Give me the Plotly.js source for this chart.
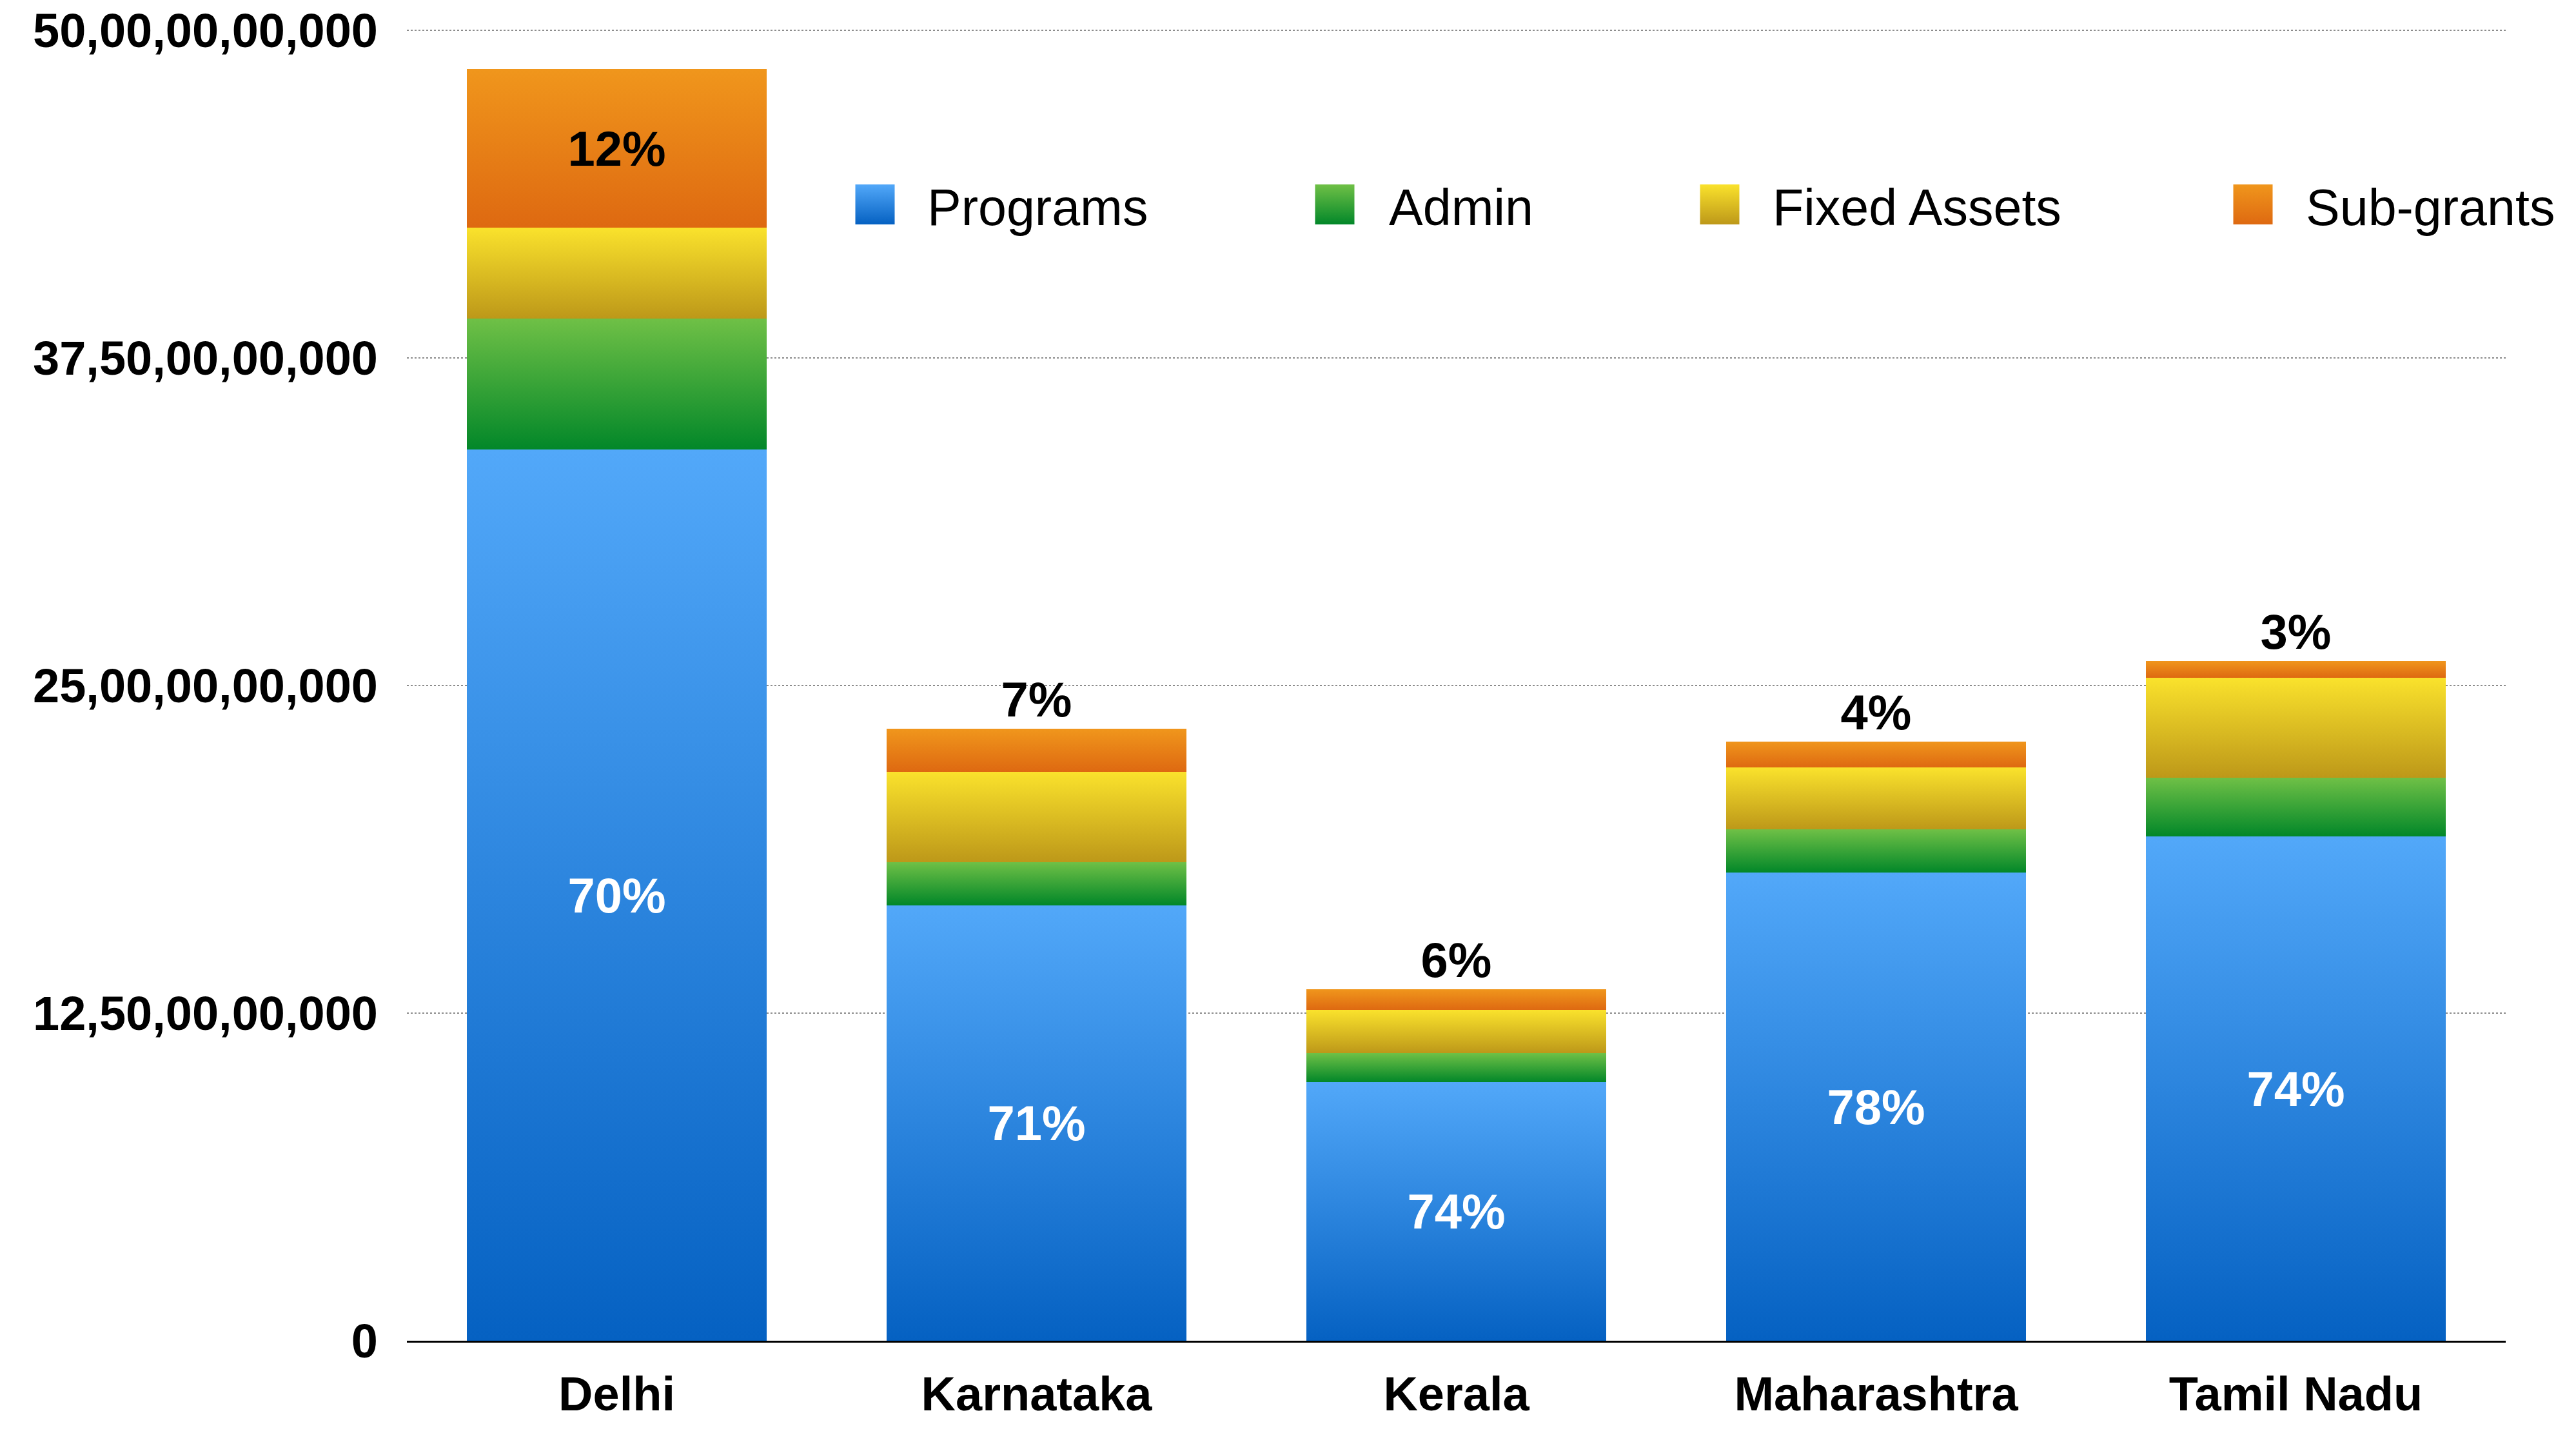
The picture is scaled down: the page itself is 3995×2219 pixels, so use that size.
<!DOCTYPE html>
<html>
<head>
<meta charset="utf-8">
<script src="https://cdn.plot.ly/plotly-3.0.1.min.js"></script>
<style>
  html, body { margin: 0; padding: 0; background: #ffffff; }
  #chart { width: 3995px; height: 2219px; }
</style>
</head>
<body>
<div id="chart"></div>
<script>
// ---------------- DATA ----------------
const categories   = ['Delhi', 'Karnataka', 'Kerala', 'Maharashtra', 'Tamil Nadu'];
const programs     = [34.0e9, 16.62e9, 9.87e9, 17.86e9, 19.24e9];
const admin        = [5.0e9, 1.64e9, 1.10e9, 1.65e9, 2.24e9];
const fixedAssets  = [3.47e9, 3.45e9, 1.65e9, 2.36e9, 3.82e9];
const subGrants    = [6.05e9, 1.63e9, 0.79e9, 1.0e9, 0.64e9];
const programsPct  = ['70%', '71%', '74%', '78%', '74%'];
const subGrantsPct = ['12%', '7%', '6%', '4%', '3%'];
const seriesNames  = ['Programs', 'Admin', 'Fixed Assets', 'Sub-grants'];
const yTickVals    = [0, 12.5e9, 25e9, 37.5e9, 50e9];
const yTickText    = ['0', '12,50,00,00,000', '25,00,00,00,000', '37,50,00,00,000', '50,00,00,00,000'];

// ---------------- STYLE ----------------
const FONT = 'Liberation Sans, Arial, Helvetica, sans-serif';
const gradients = [
  ['#52A8F9', '#0561C2'],   // Programs
  ['#6FC046', '#028729'],   // Admin
  ['#FAE22C', '#BD9819'],   // Fixed Assets
  ['#F0961C', '#DE6911']    // Sub-grants
];
const midColors = ['#2C84DE', '#3AA33A', '#DCBF24', '#E77F17'];

// plot area in pixels
const W = 3995, H = 2219;
const M = { l: 631, r: 109, t: 43, b: 140 };
const plotW = W - M.l - M.r, plotH = H - M.t - M.b;
const px2x = px => (px - M.l) / plotW;
const py2y = py => (H - M.b - py) / plotH;

const common = {
  type: 'bar',
  x: categories,
  hoverinfo: 'skip',
  showlegend: false,
  cliponaxis: false,
  constraintext: 'none',
  textangle: 0
};

const traces = [
  Object.assign({}, common, {
    name: seriesNames[0], y: programs, marker: { color: midColors[0] },
    text: programsPct, textposition: 'inside', insidetextanchor: 'middle',
    textfont: { family: FONT, size: 76, color: '#ffffff', weight: 'bold' }
  }),
  Object.assign({}, common, {
    name: seriesNames[1], y: admin, marker: { color: midColors[1] }
  }),
  Object.assign({}, common, {
    name: seriesNames[2], y: fixedAssets, marker: { color: midColors[2] }
  }),
  Object.assign({}, common, {
    name: seriesNames[3], y: subGrants, marker: { color: midColors[3] },
    text: subGrantsPct,
    textposition: ['inside', 'outside', 'outside', 'outside', 'outside'],
    insidetextanchor: 'middle',
    textfont: { family: FONT, size: 76, color: '#000000', weight: 'bold' },
    insidetextfont: { family: FONT, size: 76, color: '#000000', weight: 'bold' },
    outsidetextfont: { family: FONT, size: 76, color: '#000000', weight: 'bold' }
  })
];

// legend (drawn as swatches + labels, laid out like the reference)
const legendSwatchX = [1357, 2070, 2667, 3494];
const legendTextX   = [1436, 2152, 2747, 3574];
const legendY = 317;
const shapes = [], annotations = [];
seriesNames.forEach((n, i) => {
  shapes.push({
    type: 'rect', xref: 'paper', yref: 'paper',
    xsizemode: 'pixel', ysizemode: 'pixel',
    xanchor: px2x(legendSwatchX[i]), yanchor: py2y(legendY),
    x0: -30.5, x1: 30.5, y0: -31, y1: 31,
    fillcolor: midColors[i], line: { width: 0 }, layer: 'above'
  });
  annotations.push({
    xref: 'paper', yref: 'paper', x: px2x(legendTextX[i]), y: py2y(legendY + 4),
    xanchor: 'left', yanchor: 'middle', showarrow: false, text: n,
    font: { family: FONT, size: 79, color: '#000000' }
  });
});

const layout = {
  width: W, height: H,
  margin: M,
  paper_bgcolor: '#ffffff', plot_bgcolor: '#ffffff',
  barmode: 'stack',
  bargap: 0.286,
  showlegend: false,
  hovermode: false,
  font: { family: FONT, color: '#000000' },
  xaxis: {
    type: 'category',
    showline: true, linecolor: '#000000', linewidth: 3,
    showgrid: false, zeroline: false, ticks: '',
    ticklabelstandoff: 16,
    tickfont: { family: FONT, size: 74, color: '#000000', weight: 'bold' }
  },
  yaxis: {
    range: [0, 50.1e9],
    tickmode: 'array', tickvals: yTickVals, ticktext: yTickText,
    showgrid: true, gridcolor: '#8c8c8c', gridwidth: 2, griddash: 'dot',
    zeroline: false, showline: false, ticks: '',
    ticklabelstandoff: 44,
    tickfont: { family: FONT, size: 74, color: '#000000', weight: 'bold' }
  },
  shapes: shapes,
  annotations: annotations
};

Plotly.newPlot('chart', traces, layout, { staticPlot: true, displayModeBar: false }).then(gd => {
  // add vertical gradients like the reference's glossy segments
  const svg = gd.querySelector('.main-svg');
  const NS = 'http://www.w3.org/2000/svg';
  let defs = svg.querySelector('defs');
  if (!defs) { defs = document.createElementNS(NS, 'defs'); svg.insertBefore(defs, svg.firstChild); }
  gradients.forEach((g, i) => {
    const lg = document.createElementNS(NS, 'linearGradient');
    lg.setAttribute('id', 'segGrad' + i);
    lg.setAttribute('x1', '0'); lg.setAttribute('y1', '0');
    lg.setAttribute('x2', '0'); lg.setAttribute('y2', '1');
    [[0, g[0]], [1, g[1]]].forEach(([o, c]) => {
      const s = document.createElementNS(NS, 'stop');
      s.setAttribute('offset', o); s.setAttribute('stop-color', c);
      lg.appendChild(s);
    });
    defs.appendChild(lg);
  });
  const traceGroups = gd.querySelectorAll('.barlayer .trace');
  traceGroups.forEach((tg, i) => {
    tg.querySelectorAll('.point path').forEach(p => { p.style.fill = 'url(#segGrad' + i + ')'; });
  });
  const shapePaths = gd.querySelectorAll('.shapelayer path');
  shapePaths.forEach((p, i) => { p.style.fill = 'url(#segGrad' + (i % 4) + ')'; p.style.fillOpacity = 1; });
});
</script>
</body>
</html>
